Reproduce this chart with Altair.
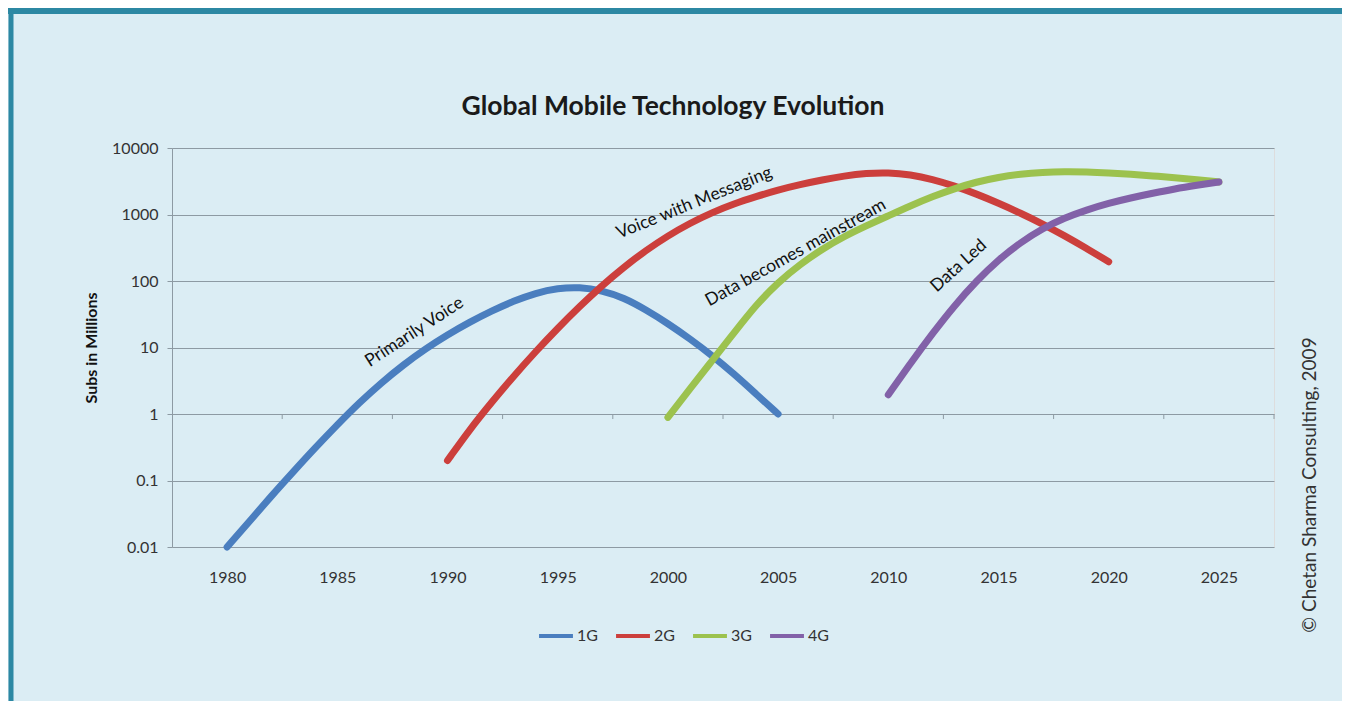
import altair as alt
import pandas as pd

# ---------------- data ----------------
series_names = ["1G", "2G", "3G", "4G"]
series_colors = ["#4a7ebf", "#cc3f3c", "#9cc24e", "#8261a8"]

years_1g = list(range(1980, 2006))
subs_1g = [0.01, 0.024, 0.058, 0.135, 0.31, 0.69, 1.48, 2.95, 5.5, 9.55, 15.5, 24,
           35.5, 50, 66, 78, 81, 72, 56, 37, 23, 13.5, 7.6, 4.0, 2.0, 1.0]

years_2g = list(range(1990, 2021))
subs_2g = [0.2, 0.58, 1.5, 3.7, 8.7, 19.5, 41.7, 85, 162, 288, 479, 741, 1070, 1450,
           1860, 2340, 2820, 3310, 3800, 4170, 4270, 3980, 3390, 2690, 2040, 1480,
           1050, 724, 479, 309, 195]

years_3g = list(range(2000, 2026))
subs_3g = [0.89, 2.4, 6.3, 16.6, 43.7, 95.5, 178, 302, 468, 676, 955, 1350, 1860,
           2450, 3090, 3630, 4070, 4320, 4420, 4370, 4220, 4030, 3800, 3590, 3350, 3090]

years_4g = list(range(2010, 2026))
subs_4g = [1.95, 5.75, 16.2, 42.7, 100, 209, 380, 617, 891, 1175, 1480, 1780, 2090,
           2430, 2750, 3090]

label_years = [1980, 1985, 1990, 1995, 2000, 2005, 2010, 2015, 2020, 2025]
tick_years = [1982.5, 1987.5, 1992.5, 1997.5, 2002.5, 2007.5, 2012.5, 2017.5, 2022.5, 2027.5]
y_ticks = [0.01, 0.1, 1, 10, 100, 1000, 10000]

notes_text = ["Primarily Voice", "Voice with Messaging", "Data becomes mainstream", "Data Led"]
notes_year = [1988.5, 2001.2, 2005.8, 2013.2]
notes_value = [17, 1490, 264, 168]
notes_angle = [327, 338, 331, 318]

title_text = "Global Mobile Technology Evolution"
y_title = "Subs in Millions"
copyright_text = "\u00a9 Chetan Sharma Consulting, 2009"

# ---------------- tables ----------------
rows = []
for name, yrs, vals in zip(series_names, [years_1g, years_2g, years_3g, years_4g],
                           [subs_1g, subs_2g, subs_3g, subs_4g]):
    for yr, v in zip(yrs, vals):
        rows.append({"series": name, "year": yr, "subs": v})
df = pd.DataFrame(rows)

ticks_df = pd.DataFrame({"year": tick_years, "top": [1.0] * len(tick_years),
                         "bottom": [0.84] * len(tick_years)})
notes_df = pd.DataFrame({"year": notes_year, "subs": notes_value,
                         "text": notes_text, "angle": notes_angle})

FONT = "Lato"
GRID = "#8d9aa3"

x_scale = alt.Scale(domain=[1977.5, 2027.5], nice=False, zero=False)
y_scale = alt.Scale(type="log", domain=[0.01, 10000], nice=False)

x_enc = alt.X("year:Q", scale=x_scale,
              axis=alt.Axis(values=label_years, format="d", title=None, grid=False,
                            domain=False, ticks=False, labelPadding=22,
                            labelFontSize=16, labelColor="#333333", labelFont=FONT))
y_enc = alt.Y("subs:Q", scale=y_scale,
              axis=alt.Axis(values=y_ticks, format="~f", title=y_title,
                            grid=True, gridColor=GRID, gridWidth=1,
                            domain=True, domainColor=GRID, ticks=True, tickColor=GRID,
                            tickSize=5, labelPadding=9, labelFontSize=16,
                            labelColor="#333333", labelFont=FONT,
                            titleFont=FONT, titleFontSize=16, titleFontWeight="bold",
                            titleColor="#111111", titlePadding=12))

lines = alt.Chart(df).mark_line(
    strokeWidth=7, interpolate="basis", strokeCap="round", strokeJoin="round"
).encode(
    x=x_enc,
    y=y_enc,
    color=alt.Color("series:N",
                    scale=alt.Scale(domain=series_names, range=series_colors),
                    legend=alt.Legend(title=None, orient="none", legendX=365, legendY=469,
                                      direction="horizontal", symbolType="stroke",
                                      symbolSize=1150, symbolStrokeWidth=4,
                                      labelFontSize=16, labelFont=FONT,
                                      labelColor="#333333", columnPadding=10,
                                      labelOffset=2, padding=0)),
)

ticks = alt.Chart(ticks_df).mark_rule(color=GRID, strokeWidth=1).encode(
    x=alt.X("year:Q", scale=x_scale),
    y=alt.Y("top:Q", scale=y_scale),
    y2="bottom:Q",
)

notes = alt.Chart(notes_df).mark_text(
    font=FONT, fontSize=17.5, color="#111111", align="center", baseline="middle"
).encode(
    x=alt.X("year:Q", scale=x_scale),
    y=alt.Y("subs:Q", scale=y_scale),
    text="text:N",
    angle=alt.Angle("angle:Q", scale=None),
)

title = alt.Chart(pd.DataFrame({"t": [title_text]})).mark_text(
    font=FONT, fontSize=26.5, fontWeight="bold", color="#1a1a1a",
    align="center", baseline="alphabetic"
).encode(x=alt.value(501), y=alt.value(-33), text="t:N")

copyright = alt.Chart(pd.DataFrame({"t": [copyright_text]})).mark_text(
    font=FONT, fontSize=19, color="#333333", align="center", baseline="middle", angle=270
).encode(x=alt.value(1138), y=alt.value(337), text="t:N")

border_top = alt.Chart(pd.DataFrame({"a": [0]})).mark_rule(
    color="#2c88a3", strokeWidth=6
).encode(x=alt.value(-164), x2=alt.value(1172), y=alt.value(-137))
border_left = alt.Chart(pd.DataFrame({"a": [0]})).mark_rule(
    color="#2c88a3", strokeWidth=5
).encode(x=alt.value(-161), y=alt.value(-140), y2=alt.value(560))

chart = alt.layer(border_top, border_left, ticks, lines, notes, title, copyright).properties(
    width=1102,
    height=399,
    background="#dbedf4",
    padding={"left": 164, "top": 140, "right": 68, "bottom": 154},
    autosize=alt.AutoSizeParams(type="none"),
).configure_view(strokeWidth=0).configure(font=FONT)

chart.save("out.html", embed_options={"renderer": "svg", "actions": False})
